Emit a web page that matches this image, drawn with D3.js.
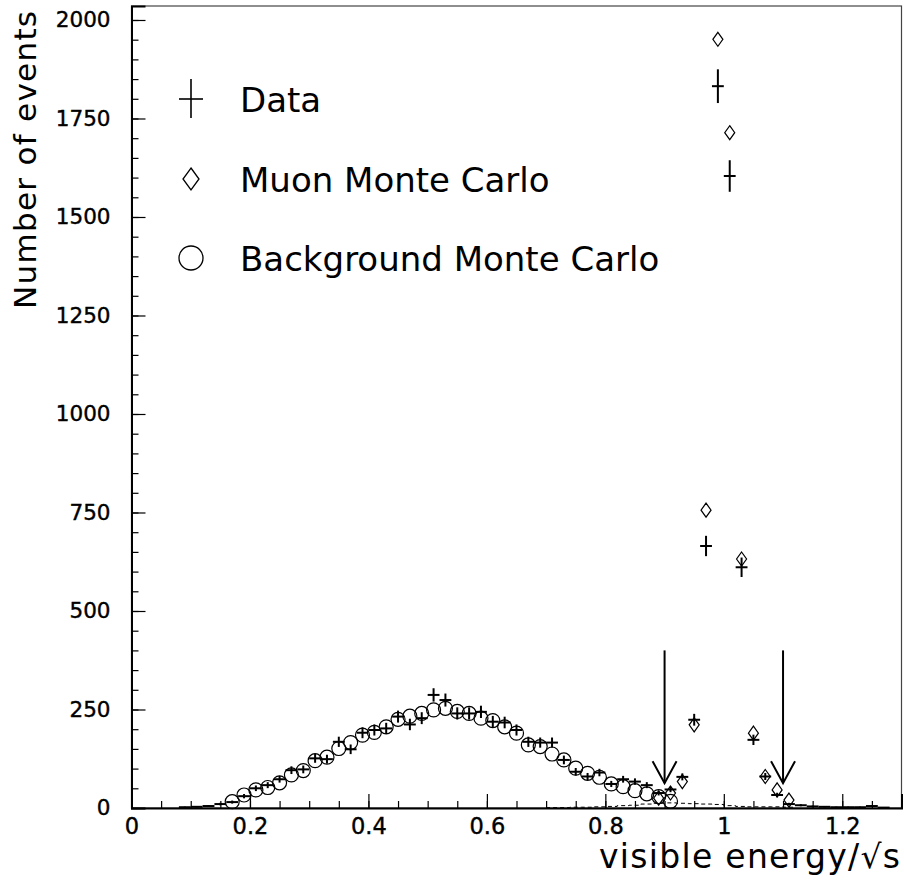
<!DOCTYPE html>
<html>
<head>
<meta charset="utf-8">
<script src="https://cdn.jsdelivr.net/npm/d3@7"></script>
<style>
  body { margin: 0; background: #fff; }
  text { font-family: "DejaVu Sans", sans-serif; fill: #000; }
</style>
</head>
<body>
<div class="chart-box"></div>
<script>
/* Data: bin centres and counts */
const dataX = [0.09, 0.11, 0.13, 0.15, 0.17, 0.19, 0.21, 0.23, 0.25, 0.27, 0.29, 0.31, 0.33, 0.35, 0.37, 0.39,
  0.41, 0.43, 0.45, 0.47, 0.49, 0.51, 0.53, 0.55, 0.57, 0.59, 0.61, 0.63, 0.65, 0.67, 0.69, 0.71, 0.73, 0.75,
  0.77, 0.79, 0.81, 0.83, 0.85, 0.87, 0.89, 0.91, 0.93, 0.95, 0.97, 0.99, 1.01, 1.03, 1.05, 1.07, 1.09, 1.11,
  1.13, 1.15, 1.17, 1.19, 1.21, 1.23, 1.25, 1.27];
const dataY = [2, 3, 5, 10, 15, 30, 50, 58, 73, 96, 98, 126, 124, 168, 149, 191,
  198, 202, 232, 212, 228, 287, 274, 240, 240, 244, 219, 217, 198, 168, 166, 166, 122, 92,
  80, 90, 61, 73, 67, 58, 38, 47, 79, 224, 665, 1832, 1604, 611, 173, 80, 33, 10,
  7, 4, 3, 2, 2, 2, 5, 1];

const muonX = [0.89, 0.91, 0.93, 0.95, 0.97, 0.99, 1.01, 1.03, 1.05, 1.07, 1.09, 1.11];
const muonY = [25, 38, 67, 211, 756, 1951, 1714, 632, 190, 80, 46, 20];

const bkgX = [0.17, 0.19, 0.21, 0.23, 0.25, 0.27, 0.29, 0.31, 0.33, 0.35, 0.37, 0.39, 0.41, 0.43, 0.45, 0.47,
  0.49, 0.51, 0.53, 0.55, 0.57, 0.59, 0.61, 0.63, 0.65, 0.67, 0.69, 0.71, 0.73, 0.75, 0.77, 0.79, 0.81, 0.83,
  0.85, 0.87, 0.89, 0.91];
const bkgY = [16, 33, 46, 52, 64, 84, 95, 120, 129, 151, 166, 185, 192, 206, 225, 233,
  240, 249, 253, 245, 240, 228, 222, 206, 190, 160, 156, 137, 122, 101, 88, 78, 61, 54,
  44, 36, 29, 17];

// small dashed histogram along the bottom
const dashX = [0.71, 0.73, 0.75, 0.77, 0.79, 0.81, 0.83, 0.85, 0.87, 0.89, 0.91, 0.93, 0.95, 0.97, 0.99,
  1.01, 1.03, 1.05, 1.07, 1.09, 1.11];
const dashY = [1, 1, 2, 2, 3, 4, 6, 7, 10, 12, 13, 12, 11, 10, 9, 6, 4, 3, 3, 3, 2];

const cutX = [0.9, 1.1];
const xTicks = [0, 0.2, 0.4, 0.6, 0.8, 1, 1.2];
const yTicks = [0, 250, 500, 750, 1000, 1250, 1500, 1750, 2000];
const legendNames = ["Data", "Muon Monte Carlo", "Background Monte Carlo"];

const binW = 0.02;

/* Setup */
let width = 904, height = 886;
let margin = {left: 131.5, right: 2.5, top: 6, bottom: 78};

let svg = d3.select(".chart-box")
  .append("svg")
  .attr("width", width)
  .attr("height", height);

let x = d3.scaleLinear().domain([0, 1.3]).range([margin.left, width - margin.right]);
let y = d3.scaleLinear().domain([0, 2035.5]).range([height - margin.bottom, margin.top]);

/* Frame */
svg.append("rect")
  .attr("x", x(0)).attr("y", y(2035.5))
  .attr("width", x(1.3) - x(0)).attr("height", y(0) - y(2035.5))
  .attr("fill", "none").attr("stroke", "#444").attr("stroke-width", 1.2);

/* Axes: ticks point into the plot */
let xMinor = d3.range(0, 1.3001, 0.05);
let yMinor = d3.range(0, 2001, 50);

svg.append("g")
  .attr("transform", `translate(0,${y(0)})`)
  .call(d3.axisBottom(x).tickValues(xMinor).tickSize(-7).tickFormat(""))
  .call(g => g.select(".domain").remove())
  .selectAll("line").attr("stroke-width", 1.2);

svg.append("g")
  .attr("transform", `translate(0,${y(0)})`)
  .call(d3.axisBottom(x).tickValues(xTicks).tickSize(-14).tickPadding(10)
    .tickFormat(d => d === 0 || d === 1 ? d3.format("d")(d) : d3.format(".1f")(d)))
  .call(g => g.select(".domain").attr("stroke-width", 2))
  .call(g => g.selectAll("line").attr("stroke-width", 1.2))
  .call(g => g.selectAll("text").attr("font-size", 22.5).attr("stroke", "#000").attr("stroke-width", 0.4)
    .style("font-family", "DejaVu Sans"));

svg.append("g")
  .attr("transform", `translate(${x(0)},0)`)
  .call(d3.axisLeft(y).tickValues(yMinor).tickSize(-7).tickFormat(""))
  .call(g => g.select(".domain").remove())
  .selectAll("line").attr("stroke-width", 1.2);

svg.append("g")
  .attr("transform", `translate(${x(0)},0)`)
  .call(d3.axisLeft(y).tickValues(yTicks).tickSize(-14).tickPadding(21).tickFormat(d3.format("d")))
  .call(g => g.select(".domain").attr("stroke-width", 2))
  .call(g => g.selectAll("line").attr("stroke-width", 1.2))
  .call(g => g.selectAll("text").attr("font-size", 21.5).attr("stroke", "#000").attr("stroke-width", 0.4)
    .style("font-family", "DejaVu Sans"));

/* Axis titles */
svg.append("text")
  .attr("transform", `translate(36,${(10 + 310) / 2}) rotate(-90)`)
  .attr("text-anchor", "middle")
  .attr("font-size", 31)
  .attr("textLength", 298)
  .text("Number of events");

svg.append("text")
  .attr("x", 599).attr("y", 868)
  .attr("font-size", 33)
  .attr("textLength", 301)
  .text("visible energy/√s");

/* Dashed histogram */
let stepLine = d3.line().curve(d3.curveStepAfter).x(d => x(d[0])).y(d => y(d[1]));
let steps = dashX.map((d, i) => [d - binW / 2, dashY[i]]);
steps.push([dashX[dashX.length - 1] + binW / 2, dashY[dashY.length - 1]]);
svg.append("path")
  .attr("d", stepLine(steps))
  .attr("fill", "none").attr("stroke", "#000").attr("stroke-width", 1)
  .attr("stroke-dasharray", "4,3");

/* Background MC circles */
svg.append("g").selectAll("circle")
  .data(bkgX.map((d, i) => [d, bkgY[i]]))
  .enter().append("circle")
  .attr("cx", d => x(d[0])).attr("cy", d => y(d[1])).attr("r", 7)
  .attr("fill", "none").attr("stroke", "#000").attr("stroke-width", 1.2);

/* Muon MC diamonds */
function diamond(cx, cy, w, h) {
  return `M${cx},${cy - h}L${cx + w},${cy}L${cx},${cy + h}L${cx - w},${cy}Z`;
}
svg.append("g").selectAll("path")
  .data(muonX.map((d, i) => [d, muonY[i]]))
  .enter().append("path")
  .attr("d", d => diamond(x(d[0]), y(d[1]), 5, 7))
  .attr("fill", "none").attr("stroke", "#000").attr("stroke-width", 1.2);

/* Data crosses: bin width and sqrt(N) errors */
let dataG = svg.append("g").attr("stroke", "#000").attr("stroke-width", 2);
let pts = dataX.map((d, i) => [d, dataY[i]]);
dataG.selectAll("line.h")
  .data(pts).enter().append("line").attr("class", "h")
  .attr("x1", d => x(d[0] - binW / 2)).attr("x2", d => x(d[0] + binW / 2))
  .attr("y1", d => y(d[1])).attr("y2", d => y(d[1]));
dataG.selectAll("line.v")
  .data(pts).enter().append("line").attr("class", "v")
  .attr("x1", d => x(d[0])).attr("x2", d => x(d[0]))
  .attr("y1", d => y(d[1] - Math.sqrt(d[1]))).attr("y2", d => y(d[1] + Math.sqrt(d[1])));

/* Cut arrows */
cutX.forEach(c => {
  let g = svg.append("g").attr("stroke", "#000").attr("stroke-width", 2).attr("fill", "none");
  g.append("line").attr("x1", x(c)).attr("x2", x(c)).attr("y1", y(400)).attr("y2", y(63));
  g.append("path").attr("d", `M${x(c) - 12},${y(63) - 22}L${x(c)},${y(63)}L${x(c) + 12},${y(63) - 22}`);
});

/* Legend */
let lx = 191, ly = [99, 179, 258];
let leg = svg.append("g");
leg.append("line").attr("x1", lx - 12).attr("x2", lx + 12).attr("y1", ly[0]).attr("y2", ly[0])
  .attr("stroke", "#000").attr("stroke-width", 1.6);
leg.append("line").attr("x1", lx).attr("x2", lx).attr("y1", ly[0] - 20).attr("y2", ly[0] + 19)
  .attr("stroke", "#000").attr("stroke-width", 1.6);
leg.append("path").attr("d", diamond(lx, ly[1], 8, 11))
  .attr("fill", "none").attr("stroke", "#000").attr("stroke-width", 1.3);
leg.append("circle").attr("cx", lx).attr("cy", ly[2]).attr("r", 12)
  .attr("fill", "none").attr("stroke", "#000").attr("stroke-width", 1.3);
leg.selectAll("text")
  .data(legendNames).enter().append("text")
  .attr("x", 240).attr("y", (d, i) => ly[i] + 13)
  .attr("font-size", 34)
  .text(d => d);
</script>
</body>
</html>
